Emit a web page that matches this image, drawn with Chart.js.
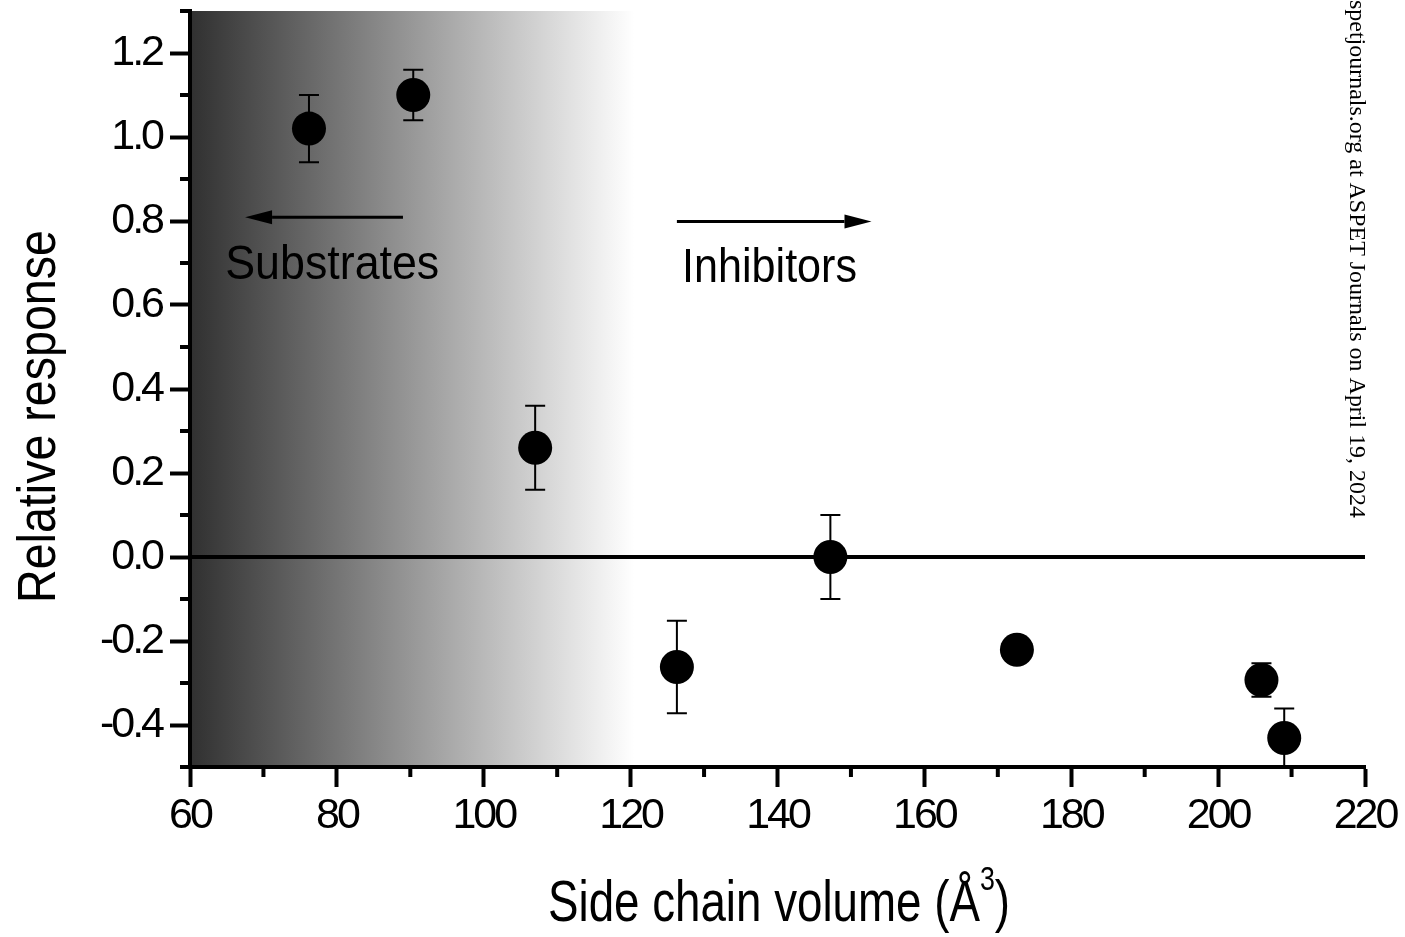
<!DOCTYPE html>
<html><head><meta charset="utf-8">
<script src="https://cdn.jsdelivr.net/npm/chart.js@4"></script>
<style>html,body{margin:0;padding:0;background:#fff;overflow:hidden}#wrap{width:1405px;height:937px}</style>
</head><body><div id="wrap"><canvas id="c" width="1405" height="937"></canvas></div>
<script>
// ---- data ----
const volumes   = [76.2, 90.4, 107.0, 126.3, 147.2, 172.6, 205.9, 209.0];
const responses = [1.02, 1.10, 0.26, -0.262, 0.0, -0.221, -0.293, -0.431];
const errors    = [0.08, 0.06, 0.10, 0.11, 0.10, 0.02, 0.04, 0.07];
const xTicks      = [60, 80, 100, 120, 140, 160, 180, 200, 220];
const xMinorTicks = [70, 90, 110, 130, 150, 170, 190, 210];
const yTicks      = [-0.4, -0.2, 0.0, 0.2, 0.4, 0.6, 0.8, 1.0, 1.2];
const yMinorTicks = [-0.5, -0.3, -0.1, 0.1, 0.3, 0.5, 0.7, 0.9, 1.1, 1.3];
const xTitleMain = 'Side chain volume (Å';
const xTitleSup  = '3';
const xTitleEnd  = ')';
const yTitle     = 'Relative response';
const gradientRange = [60, 120.5];          // shaded "substrate" region (x units)
const substrateArrow = {from: 89.0, to: 67.5, y: 0.809};
const inhibitorArrow = {from: 126.3, to: 152.8, y: 0.799};
const substrateLabel = {text: 'Substrates', x: 64.8, y: 0.663};
const inhibitorLabel = {text: 'Inhibitors', x: 127.0, y: 0.654};
const watermark = 'spetjournals.org at ASPET Journals on April 19, 2024';

const SANS = "'Liberation Sans', Arial, sans-serif";
const SERIF = "'Liberation Serif', 'Times New Roman', serif";

function fitText(ctx, text, font, x, y, targetW) {
  ctx.font = font;
  const w = ctx.measureText(text).width;
  ctx.save(); ctx.translate(x, y); ctx.scale(targetW / w, 1);
  ctx.fillText(text, 0, 0); ctx.restore();
}

const bgPlugin = {
  id: 'bg',
  beforeDraw(chart) {
    const {ctx, chartArea: a, scales: {x}} = chart;
    const x0 = x.getPixelForValue(gradientRange[0]);
    const x1 = x.getPixelForValue(gradientRange[1]);
    const g = ctx.createLinearGradient(x0, 0, x1, 0);
    g.addColorStop(0, '#303030');
    g.addColorStop(1, '#ffffff');
    ctx.save(); ctx.fillStyle = g; ctx.fillRect(x0, a.top, x1 - x0, a.bottom - a.top); ctx.restore();
    ctx.letterSpacing = '-3px';   // condensed tick labels
  }
};

function arrow(ctx, x0, x1, y) {
  const dir = Math.sign(x1 - x0), head = 27, hw = 7;
  ctx.beginPath(); ctx.moveTo(x0, y); ctx.lineTo(x1 - dir * head, y);
  ctx.lineWidth = 3; ctx.strokeStyle = '#000'; ctx.stroke();
  ctx.beginPath(); ctx.moveTo(x1, y); ctx.lineTo(x1 - dir * head, y - hw); ctx.lineTo(x1 - dir * head, y + hw); ctx.closePath();
  ctx.fillStyle = '#000'; ctx.fill();
}

const overlayPlugin = {
  id: 'overlay',
  beforeDatasetsDraw(chart) {
    const {ctx, chartArea: a, scales: {x, y}} = chart;
    ctx.letterSpacing = '0px';
    ctx.save();
    const y0 = y.getPixelForValue(0);
    ctx.beginPath(); ctx.moveTo(a.left, y0); ctx.lineTo(a.right, y0);
    ctx.lineWidth = 4; ctx.strokeStyle = '#000'; ctx.stroke();
    arrow(ctx, x.getPixelForValue(substrateArrow.from), x.getPixelForValue(substrateArrow.to), y.getPixelForValue(substrateArrow.y));
    arrow(ctx, x.getPixelForValue(inhibitorArrow.from), x.getPixelForValue(inhibitorArrow.to), y.getPixelForValue(inhibitorArrow.y));
    ctx.fillStyle = '#000'; ctx.textBaseline = 'alphabetic'; ctx.textAlign = 'left';
    fitText(ctx, substrateLabel.text, '48px ' + SANS, x.getPixelForValue(substrateLabel.x), y.getPixelForValue(substrateLabel.y), 214);
    fitText(ctx, inhibitorLabel.text, '48px ' + SANS, x.getPixelForValue(inhibitorLabel.x), y.getPixelForValue(inhibitorLabel.y), 175);
    ctx.lineWidth = 2; ctx.strokeStyle = '#000';
    volumes.forEach((v, i) => {
      const px = x.getPixelForValue(v);
      const pt = y.getPixelForValue(responses[i] + errors[i]);
      const pb = y.getPixelForValue(responses[i] - errors[i]);
      ctx.beginPath();
      ctx.moveTo(px, pt); ctx.lineTo(px, pb);
      ctx.moveTo(px - 10, pt); ctx.lineTo(px + 10, pt);
      ctx.moveTo(px - 10, pb); ctx.lineTo(px + 10, pb);
      ctx.stroke();
    });
    ctx.restore();
  },
  afterDraw(chart) {
    const {ctx, chartArea: a, scales: {x, y}} = chart;
    ctx.letterSpacing = '0px';
    ctx.save();
    ctx.strokeStyle = '#000'; ctx.lineWidth = 4;
    ctx.beginPath();
    yMinorTicks.forEach(v => { const p = y.getPixelForValue(v); ctx.moveTo(a.left - 10, p); ctx.lineTo(a.left, p); });
    xMinorTicks.forEach(v => { const p = x.getPixelForValue(v); ctx.moveTo(p, a.bottom); ctx.lineTo(p, a.bottom + 10); });
    ctx.stroke();
    ctx.fillStyle = '#000'; ctx.textBaseline = 'alphabetic'; ctx.textAlign = 'left';
    const fMain = '58px ' + SANS, fSup = '34px ' + SANS;
    ctx.font = fMain; const w1 = ctx.measureText(xTitleMain).width, w3 = ctx.measureText(xTitleEnd).width;
    ctx.font = fSup; const w2 = ctx.measureText(xTitleSup).width;
    const sx = 462 / (w1 + w2 + w3);
    ctx.save(); ctx.translate(548, 921); ctx.scale(sx, 1);
    ctx.font = fMain; ctx.fillText(xTitleMain, 0, 0);
    ctx.font = fSup; ctx.fillText(xTitleSup, w1, -31);
    ctx.font = fMain; ctx.fillText(xTitleEnd, w1 + w2, 0);
    ctx.restore();
    ctx.save(); ctx.translate(55, 603); ctx.rotate(-Math.PI / 2);
    fitText(ctx, yTitle, '54px ' + SANS, 0, 0, 373);
    ctx.restore();
    ctx.save(); ctx.translate(1350, 0); ctx.rotate(Math.PI / 2);
    fitText(ctx, watermark, '24px ' + SERIF, 0, 0, 518);
    ctx.restore();
    ctx.restore();
  }
};

new Chart(document.getElementById('c'), {
  type: 'scatter',
  data: { datasets: [{
    data: volumes.map((v, i) => ({x: v, y: responses[i]})),
    backgroundColor: '#000', borderColor: '#000', borderWidth: 0,
    pointRadius: 17, pointHoverRadius: 17
  }]},
  options: {
    responsive: false, animation: false, devicePixelRatio: 1, events: [],
    layout: {autoPadding: false, padding: {left: 0, top: 11, right: 40, bottom: 0}},
    plugins: {legend: {display: false}, tooltip: {enabled: false}},
    scales: {
      x: {
        type: 'linear', min: 60, max: 220,
        afterBuildTicks: s => { s.ticks = xTicks.map(v => ({value: v})); },
        afterFit: s => { s.height = 170; s.paddingLeft = 0; s.paddingRight = 0; },
        grid: {drawOnChartArea: false, tickLength: 20, tickWidth: 4, tickColor: '#000'},
        border: {display: true, width: 4, color: '#000'},
        ticks: {color: '#000', font: {family: SANS, size: 43}, padding: 3, maxRotation: 0, autoSkip: false,
                callback: v => String(v)}
      },
      y: {
        type: 'linear', min: -0.5, max: 1.3,
        afterBuildTicks: s => { s.ticks = yTicks.map(v => ({value: v})); },
        afterFit: s => { s.width = 190; s.paddingTop = 0; s.paddingBottom = 0; },
        grid: {drawOnChartArea: false, tickLength: 20, tickWidth: 4, tickColor: '#000'},
        border: {display: true, width: 4, color: '#000'},
        ticks: {color: '#000', font: {family: SANS, size: 43}, padding: 8, autoSkip: false,
                callback: v => Number(v).toFixed(1)}
      }
    }
  },
  plugins: [bgPlugin, overlayPlugin]
});
</script></body></html>
